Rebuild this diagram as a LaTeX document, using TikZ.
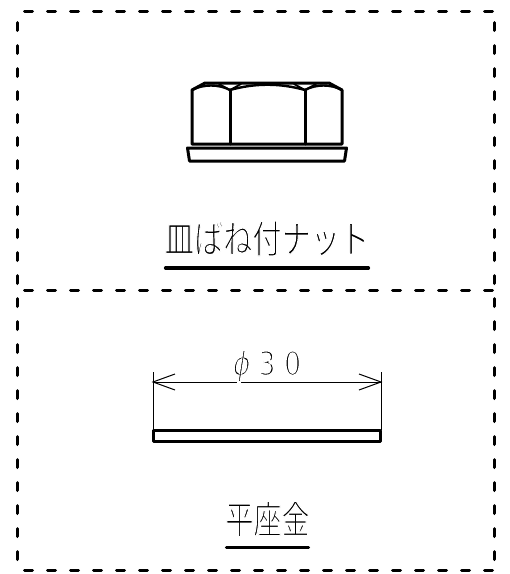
\documentclass[tikz,border=0pt]{standalone}
\usepackage{fontspec}
\newfontfamily\cjk{Noto Sans CJK JP}
\newfontfamily\dimfont{DejaVu Sans}
\newcommand{\thintext}[1]{\special{pdf:code q 2 Tr 1 1 1 RG #1 w}}
\newcommand{\thinend}{\special{pdf:code Q}}
\tikzset{
  outline/.style={line width=3pt,line join=round,line cap=round},
  thinline/.style={line width=1pt},
  border/.style={line width=3pt,line cap=round,dash pattern=on 8pt off 15pt},
  under/.style={line width=3.2pt,line cap=round},
  label/.style={inner sep=0pt,outer sep=0pt,anchor=center,transform shape},
  openhead/.style={line width=1pt}
}
\begin{document}
\begin{tikzpicture}[x=1pt,y=-1pt]
\useasboundingbox (0,0) rectangle (510,574);
% borders
\coordinate (t1) at (24.5,11); \coordinate (t2) at (494,11);
\coordinate (b1) at (24.5,570.5); \coordinate (b2) at (494,570.5);
\coordinate (m1) at (24.5,290.7); \coordinate (m2) at (494,290.7);
\coordinate (l1) at (17.7,22.5); \coordinate (l2) at (17.7,566);
\coordinate (r1) at (494,22.5); \coordinate (r2) at (494,566);
\draw[border] (t1) -- (t2);
\draw[border] (m1) -- (m2);
\draw[border] (b1) -- (b2);
\draw[border] (l1) -- (l2);
\draw[border] (r1) -- (r2);
% nut
\draw[outline] (192,144) -- (192,90) -- (205,83) -- (329,83) -- (342,90) -- (342,144) -- cycle;
\draw[outline] (230,144) -- (230,90);
\draw[outline] (305,144) -- (305,90);
\draw[outline,line width=2.4pt] (192,90) .. controls (203,84) and (219,84) .. (230,90);
\draw[outline,line width=2.4pt] (230,90) .. controls (255,83) and (280,83) .. (305,90);
\draw[outline,line width=2.4pt] (305,90) .. controls (316,84) and (331,84) .. (342,90);
\draw[outline,line width=1.8pt] (219,84) -- (230,90) -- (241,84);
\draw[outline,line width=1.8pt] (294,84) -- (305,90) -- (316,84);
\draw[outline] (187.5,148) -- (346.5,148) -- (344.5,161) -- (189.5,161) -- cycle;
% labels
\node[label,xscale=.885,yscale=1.17] (nutlabel) at (267,238.5) {\cjk\fontsize{33pt}{33pt}\selectfont\thintext{1.15}皿ばね付ナット\thinend};
\coordinate (u1a) at (165.5,268); \coordinate (u1b) at (368.5,268);
\draw[under] (u1a) -- (u1b);
% dimension
\draw[thinline] (153,372) -- (153,430);
\draw[thinline] (381,372) -- (381,430);
\coordinate (da) at (153,382); \coordinate (db) at (381,382);
\draw[thinline] (da) -- (db);
\draw[openhead] (175,374) -- (da) -- (175,390);
\draw[openhead] (359,374) -- (db) -- (359,390);
\node[label,xscale=.85,yscale=1.05] (dimlabel) at (267,366) {\dimfont\fontsize{31.5pt}{31.5pt}\selectfont\thintext{1.7}{\itshape ϕ}\hspace{9.5pt}3\hspace{10pt}0\thinend};
\draw[outline] (153.5,430) rectangle (380.5,441);
% washer label
\node[label,xscale=.85,yscale=1.17] (washerlabel) at (267.5,519) {\cjk\fontsize{33pt}{33pt}\selectfont\thintext{1.15}平座金\thinend};
\coordinate (u2a) at (226.5,547.5); \coordinate (u2b) at (308.5,547.5);
\draw[under] (u2a) -- (u2b);
\end{tikzpicture}
\end{document}
